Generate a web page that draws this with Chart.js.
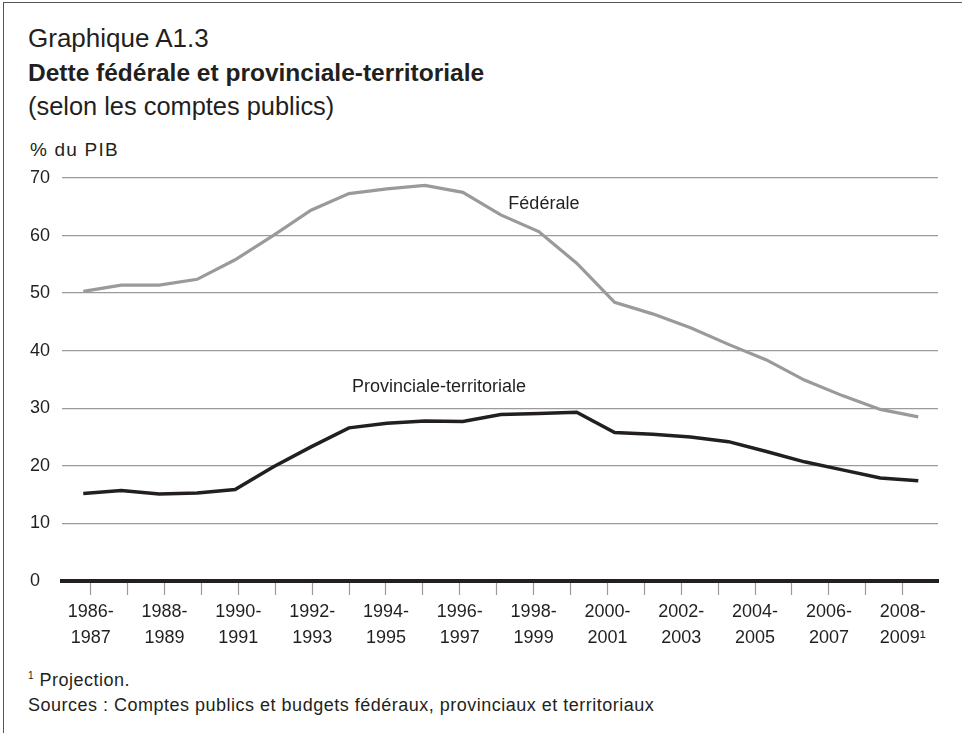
<!DOCTYPE html>
<html lang="fr">
<head>
<meta charset="utf-8">
<title>Dette fédérale et provinciale-territoriale</title>
<script src="https://cdn.jsdelivr.net/npm/chart.js@4/dist/chart.umd.min.js"></script>
<style>
  html, body { margin: 0; padding: 0; background: #fff; }
  body { width: 962px; height: 733px; position: relative; overflow: hidden;
         font-family: "Liberation Sans", Arial, sans-serif; color: #231f20; }
  .frame { position: absolute; left: 3px; top: 2px; right: 0; bottom: 0;
           border-left: 1.5px solid #555; border-top: 1.5px solid #555; }
  .txt { position: absolute; left: 28px; white-space: nowrap; }
  #num { top: 23px; font-size: 26px; }
  #title { top: 59px; font-size: 24.5px; font-weight: bold; }
  #sub { top: 92px; font-size: 25.4px; }
  #unit { top: 139px; left: 30px; font-size: 19px; letter-spacing: 1.2px; }
  #note { top: 670px; font-size: 18px; letter-spacing: 0.5px; }
  #src { top: 695px; font-size: 18px; letter-spacing: 0.5px; }
  sup { font-size: 10px; vertical-align: 7px; }
  canvas { position: absolute; left: 0; top: 150px; }
</style>
</head>
<body>
<div class="frame"></div>
<div class="txt" id="num">Graphique A1.3</div>
<div class="txt" id="title">Dette fédérale et provinciale-territoriale</div>
<div class="txt" id="sub">(selon les comptes publics)</div>
<div class="txt" id="unit">% du PIB</div>
<div class="txt" id="note"><sup>1</sup> Projection.</div>
<div class="txt" id="src">Sources : Comptes publics et budgets fédéraux, provinciaux et territoriaux</div>
<canvas id="chart" width="962" height="510"></canvas>
<script>
// Exercices financiers (le dernier est une projection)
const periods = [
  '1986-1987', '1987-1988', '1988-1989', '1989-1990', '1990-1991', '1991-1992',
  '1992-1993', '1993-1994', '1994-1995', '1995-1996', '1996-1997', '1997-1998',
  '1998-1999', '1999-2000', '2000-2001', '2001-2002', '2002-2003', '2003-2004',
  '2004-2005', '2005-2006', '2006-2007', '2007-2008', '2008-2009\u00b9'
];

// Dette en % du PIB
const federale = [50.3, 51.4, 51.4, 52.4, 55.8, 60.0, 64.4, 67.3, 68.1, 68.7, 67.5, 63.6,
                  60.7, 55.2, 48.4, 46.4, 44.0, 41.1, 38.4, 34.9, 32.2, 29.8, 28.5];
const provinciale = [15.2, 15.7, 15.1, 15.3, 15.9, 19.8, 23.3, 26.6, 27.4, 27.8, 27.7, 28.9,
                     29.1, 29.3, 25.8, 25.5, 25.0, 24.2, 22.5, 20.7, 19.3, 17.9, 17.4];

const yTicks = [0, 10, 20, 30, 40, 50, 60, 70];

const FONT = '"Liberation Sans", Arial, sans-serif';
const INK = '#231f20';
const GRID = '#9b9b9b';

// étiquettes des séries, posées en coordonnées de données
const seriesLabels = [
  { text: 'Fédérale', x: 11.2, y: 65.5 },
  { text: 'Provinciale-territoriale', x: 7.08, y: 33.7 }
];

const seriesLabelPlugin = {
  id: 'seriesLabels',
  afterDatasetsDraw(chart) {
    const { ctx, scales } = chart;
    ctx.save();
    ctx.font = '18px ' + FONT;
    ctx.fillStyle = INK;
    ctx.textAlign = 'left';
    ctx.textBaseline = 'middle';
    seriesLabels.forEach(l => {
      ctx.fillText(l.text, scales.x.getPixelForValue(l.x), scales.y.getPixelForValue(l.y));
    });
    ctx.restore();
  }
};

const toPoints = arr => arr.map((v, i) => ({ x: i, y: v }));

new Chart(document.getElementById('chart'), {
  type: 'line',
  data: {
    datasets: [
      {
        label: 'Fédérale',
        data: toPoints(federale),
        borderColor: '#9a9a9a',
        borderWidth: 3.2,
        pointRadius: 0,
        tension: 0,
        xAxisID: 'x'
      },
      {
        label: 'Provinciale-territoriale',
        data: toPoints(provinciale),
        borderColor: INK,
        borderWidth: 3.5,
        pointRadius: 0,
        tension: 0,
        xAxisID: 'x'
      }
    ]
  },
  options: {
    responsive: false,
    animation: false,
    devicePixelRatio: 1,
    layout: { padding: { left: 30, right: 24, top: 28, bottom: 0 } },
    plugins: {
      legend: { display: false },
      tooltip: { enabled: false }
    },
    scales: {
      // axe des données (non affiché)
      x: {
        type: 'linear',
        display: false,
        min: -0.561,
        max: 22.52
      },
      // axe des exercices : graduations et libellés
      xt: {
        type: 'linear',
        position: 'bottom',
        min: -0.778,
        max: 22.956,
        afterBuildTicks: scale => {
          scale.ticks = periods.map((p, i) => ({ value: i }));
        },
        afterFit: scale => { scale.height = 79; },
        grid: {
          drawOnChartArea: false,
          drawTicks: true,
          tickLength: 14,
          tickColor: GRID,
          tickWidth: 1.2
        },
        border: { display: true, color: INK, width: 4 },
        ticks: {
          autoSkip: false,
          maxRotation: 0,
          padding: 4,
          color: INK,
          font: { family: FONT, size: 18, lineHeight: 1.43 },
          callback: value => {
            if (value % 2 !== 0) return '';
            const [a, b] = periods[value].split('-');
            return [a + '-', b];
          }
        }
      },
      y: {
        min: 0,
        max: 70,
        afterBuildTicks: scale => {
          scale.ticks = yTicks.map(v => ({ value: v }));
        },
        afterFit: scale => { scale.width = 32; },
        grid: {
          drawTicks: false,
          color: ctx => ctx.tick && ctx.tick.value === 0 ? 'rgba(0,0,0,0)' : GRID,
          lineWidth: 1.3
        },
        border: { display: false },
        ticks: {
          crossAlign: 'far',
          padding: 0,
          color: INK,
          font: { family: FONT, size: 18 }
        }
      }
    }
  },
  plugins: [seriesLabelPlugin]
});
</script>
</body>
</html>
